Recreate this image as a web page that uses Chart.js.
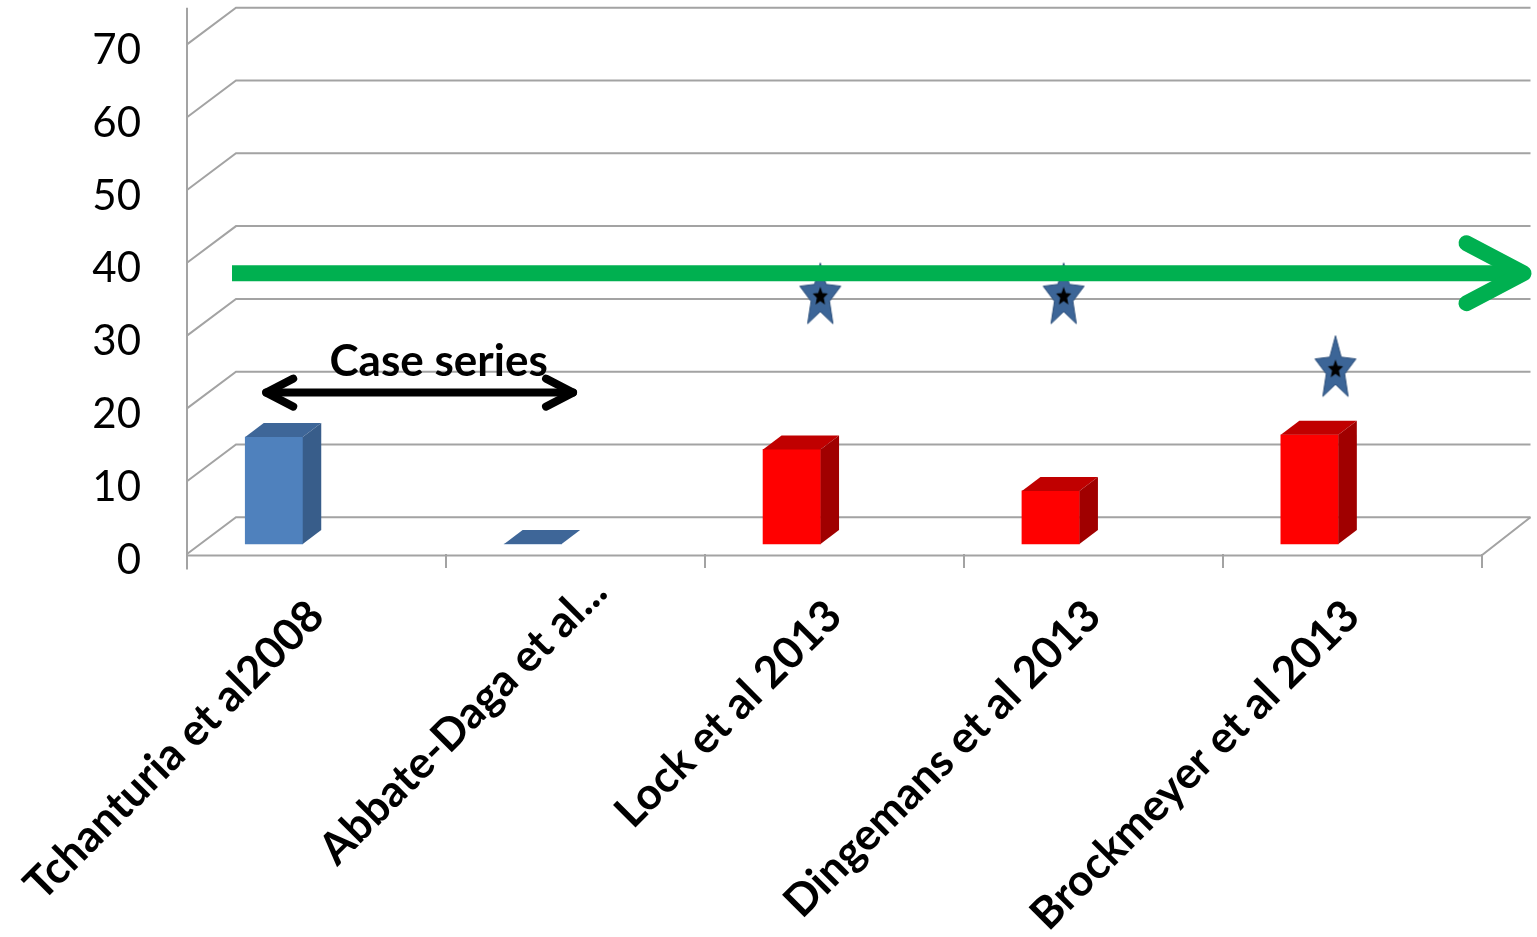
<!DOCTYPE html>
<html>
<head>
<meta charset="utf-8">
<script src="https://cdn.jsdelivr.net/npm/chart.js@4.4.1/dist/chart.umd.min.js"></script>
<style>
  html, body { margin: 0; padding: 0; background: #ffffff; }
  #wrap { width: 1537px; height: 937px; }
</style>
</head>
<body>
<div id="wrap"><canvas id="c" width="1537" height="937"></canvas></div>
<script>
// Studies and the values plotted for each
const studies = ['Tchanturia et al2008', 'Abbate-Daga et al...', 'Lock et al 2013', 'Dingemans et al 2013', 'Brockmeyer et al 2013'];
const barValues = [14.7, 0, 13, 7.3, 15];
const barGroup = ['case', 'case', 'trial', 'trial', 'trial'];

// Star markers (position along the study axis, value)
const starX = [2.11, 3.05, 4.10];
const starY = [34, 34, 24];

// Value-axis ticks
const yTicks = [0, 10, 20, 30, 40, 50, 60, 70];

// Reference level (green arrow) and case-series span
const benchmarkLevel = 37.2;
const caseSeriesSpan = [-0.03, 1.155];
const caseSeriesLevel = 20.8;
const caseSeriesText = 'Case series';

// ---- styling ----
const GRID = '#a3a3a3';
const DEPTH = { dx: 49, dy: -36.7 };      // floor / wall depth
const BAR_DEPTH = { dx: 18.5, dy: -14 };  // column depth
const FACE = {
  case:  { front: '#4F81BD', top: '#3E6698', side: '#385D8A' },
  trial: { front: '#FF0000', top: '#C00000', side: '#A00000' }
};
// the shortened label sits further along its own baseline
const LABEL_SLIDE = { 1: 34 };

function starPath(g, cx, cy, rx, ry, inner) {
  g.beginPath();
  for (let k = 0; k < 10; k++) {
    const a = -Math.PI / 2 + k * Math.PI / 5;
    const f = k % 2 === 0 ? 1 : inner;
    const px = cx + Math.cos(a) * rx * f;
    const py = cy + Math.sin(a) * ry * f;
    if (k === 0) g.moveTo(px, py); else g.lineTo(px, py);
  }
  g.closePath();
}

function makeStar() {
  const c = document.createElement('canvas');
  c.width = 48; c.height = 72;
  const g = c.getContext('2d');
  starPath(g, 24, 36, 21.5, 33.5, 0.45);
  g.fillStyle = '#3C6597';
  g.fill();
  g.strokeStyle = '#2B4E7A';
  g.lineWidth = 1;
  g.stroke();
  starPath(g, 24, 36, 8, 9.8, 0.45);
  g.fillStyle = '#000000';
  g.fill();
  return c;
}

function arrowLine(ctx, x0, x1, y, head) {
  ctx.beginPath();
  ctx.moveTo(x0, y);
  ctx.lineTo(x1, y);
  ctx.stroke();
  if (head.right) {
    ctx.beginPath();
    ctx.moveTo(x1 - head.dx, y - head.dy);
    ctx.lineTo(x1, y);
    ctx.lineTo(x1 - head.dx, y + head.dy);
    ctx.stroke();
  }
  if (head.left) {
    ctx.beginPath();
    ctx.moveTo(x0 + head.dx, y - head.dy);
    ctx.lineTo(x0, y);
    ctx.lineTo(x0 + head.dx, y + head.dy);
    ctx.stroke();
  }
}

const depthPlugin = {
  id: 'depth',
  beforeDraw(chart) {
    // slide selected category labels along their rotated baseline
    const x = chart.scales.x;
    if (!x || typeof x.getLabelItems !== 'function') return;
    const items = x.getLabelItems(chart.chartArea);
    Object.keys(LABEL_SLIDE).forEach(k => {
      const it = items[+k];
      if (!it || !it.options || !it.options.translation) return;
      const d = LABEL_SLIDE[k] * Math.SQRT1_2;
      it.options.translation[0] += d;
      it.options.translation[1] -= d;
    });
  },
  beforeDatasetsDraw(chart) {
    const { ctx, chartArea: a, scales: { y } } = chart;
    ctx.save();
    ctx.strokeStyle = GRID;
    ctx.lineWidth = 2;
    // back wall gridlines with their side-wall diagonals
    yTicks.forEach(v => {
      const py = y.getPixelForValue(v);
      ctx.beginPath();
      ctx.moveTo(a.left, py);
      ctx.lineTo(a.left + DEPTH.dx, py + DEPTH.dy);
      ctx.lineTo(a.right + DEPTH.dx, py + DEPTH.dy);
      ctx.stroke();
    });
    // floor edge
    const y0 = y.getPixelForValue(0);
    const fy = y0 + 1.5;
    ctx.beginPath();
    ctx.moveTo(a.left, fy);
    ctx.lineTo(a.right, fy);
    ctx.lineTo(a.right + DEPTH.dx, y0 + DEPTH.dy);
    ctx.stroke();
    // value axis line
    ctx.beginPath();
    ctx.moveTo(a.left, y.getPixelForValue(yTicks[yTicks.length - 1]) + DEPTH.dy);
    ctx.lineTo(a.left, fy + 14);
    ctx.stroke();
    ctx.restore();
  },
  afterDatasetDraw(chart, args) {
    if (args.meta.type !== 'bar') return;
    const ctx = chart.ctx;
    ctx.save();
    args.meta.data.forEach((el, i) => {
      const { x, y, base, width } = el.getProps(['x', 'y', 'base', 'width'], true);
      const l = x - width / 2, r = x + width / 2;
      const f = FACE[barGroup[i]];
      // top face
      ctx.beginPath();
      ctx.moveTo(l, y);
      ctx.lineTo(r, y);
      ctx.lineTo(r + BAR_DEPTH.dx, y + BAR_DEPTH.dy);
      ctx.lineTo(l + BAR_DEPTH.dx, y + BAR_DEPTH.dy);
      ctx.closePath();
      ctx.fillStyle = f.top;
      ctx.fill();
      // side face
      if (base - y > 0.5) {
        ctx.beginPath();
        ctx.moveTo(r, y);
        ctx.lineTo(r + BAR_DEPTH.dx, y + BAR_DEPTH.dy);
        ctx.lineTo(r + BAR_DEPTH.dx, base + BAR_DEPTH.dy);
        ctx.lineTo(r, base);
        ctx.closePath();
        ctx.fillStyle = f.side;
        ctx.fill();
      }
    });
    ctx.restore();
  },
  afterDatasetsDraw(chart) {
    const { ctx, chartArea: a, scales: { xb, yb } } = chart;
    ctx.save();
    // green reference arrow across the back wall
    const gy = yb.getPixelForValue(benchmarkLevel);
    ctx.strokeStyle = '#00B050';
    ctx.lineWidth = 16;
    ctx.lineJoin = 'round';
    ctx.lineCap = 'butt';
    const gx0 = a.left + DEPTH.dx - 4;
    const gx1 = a.right + DEPTH.dx - 7;
    ctx.beginPath();
    ctx.moveTo(gx0, gy);
    ctx.lineTo(gx1, gy);
    ctx.stroke();
    ctx.lineCap = 'round';
    ctx.beginPath();
    ctx.moveTo(gx1 - 57, gy - 30);
    ctx.lineTo(gx1, gy);
    ctx.lineTo(gx1 - 57, gy + 30);
    ctx.stroke();

    // case-series double arrow and its caption
    const cy = yb.getPixelForValue(caseSeriesLevel);
    const cx0 = xb.getPixelForValue(caseSeriesSpan[0]);
    const cx1 = xb.getPixelForValue(caseSeriesSpan[1]);
    ctx.strokeStyle = '#000000';
    ctx.lineWidth = 8;
    ctx.lineCap = 'round';
    ctx.lineJoin = 'round';
    arrowLine(ctx, cx0, cx1, cy, { left: true, right: true, dx: 27, dy: 14 });
    ctx.fillStyle = '#000000';
    ctx.font = 'bold 44px Lato';
    ctx.textAlign = 'center';
    ctx.textBaseline = 'alphabetic';
    ctx.fillText(caseSeriesText, (cx0 + cx1) / 2 + 19, cy - 17);
    ctx.restore();
  }
};

function build() {
  const starImg = makeStar();
  const ctx = document.getElementById('c').getContext('2d');
  new Chart(ctx, {
    type: 'bar',
    data: {
      labels: studies,
      datasets: [
        {
          type: 'line',
          label: 'stars',
          data: starX.map((x, i) => ({ x, y: starY[i] })),
          xAxisID: 'xb',
          yAxisID: 'yb',
          showLine: false,
          pointStyle: starImg,
          pointRadius: 10,
          order: 0
        },
        {
          type: 'bar',
          label: 'studies',
          data: barValues.map((v, i) => ({ x: i, y: v })),
          xAxisID: 'xb',
          yAxisID: 'yb',
          backgroundColor: barGroup.map(g => FACE[g].front),
          borderWidth: 0,
          barThickness: 57.5,
          order: 1
        }
      ]
    },
    options: {
      responsive: false,
      animation: false,
      devicePixelRatio: 1,
      layout: { padding: { left: 0, top: 44.4, right: 55.5, bottom: 0 } },
      plugins: { legend: { display: false }, tooltip: { enabled: false } },
      scales: {
        x: {
          type: 'category',
          offset: true,
          grid: { offset: true, drawOnChartArea: false, drawTicks: true, tickLength: 14, color: GRID, lineWidth: 2 },
          border: { display: false },
          ticks: {
            minRotation: 45, maxRotation: 45, autoSkip: false,
            padding: 22,
            color: '#000000',
            font: { family: 'Lato', size: 44, weight: 'bold' }
          },
          afterFit(s) {
            s.height = 937 - 554;
            s.paddingLeft = 0;
            s.paddingRight = 0;
          }
        },
        y: {
          min: 0, max: 70,
          afterBuildTicks(s) { s.ticks = yTicks.map(v => ({ value: v })); },
          grid: { display: false, drawTicks: false },
          border: { display: false },
          ticks: {
            padding: 46,
            labelOffset: 6,
            color: '#000000',
            font: { family: 'Lato', size: 42 }
          },
          afterFit(s) {
            s.width = 187;
            s.paddingTop = 0;
            s.paddingBottom = 0;
          }
        },
        xb: { type: 'linear', display: false, offset: false, min: -0.336, max: 4.664 },
        yb: { type: 'linear', display: false, min: -1.37, max: 68.63 }
      }
    },
    plugins: [depthPlugin]
  });
}

Promise.all([
  document.fonts.load('42px Lato'),
  document.fonts.load('bold 44px Lato')
]).then(build, build);
</script>
</body>
</html>
